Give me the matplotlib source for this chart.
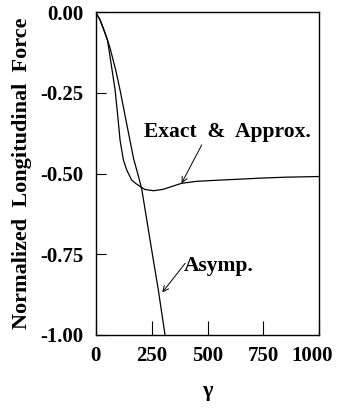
import matplotlib
matplotlib.use("Agg")
import matplotlib.pyplot as plt
from matplotlib.transforms import ScaledTranslation

# Exact & Approx. curve
exact_gamma = [0, 20, 53, 87, 100, 109, 124, 139, 161, 180, 191, 203, 220, 258, 300,
               340, 384, 450, 556, 650, 735, 850, 1000]
exact_force = [0, -0.024, -0.086, -0.241, -0.33, -0.396, -0.458, -0.489, -0.520, -0.531,
               -0.536, -0.542, -0.549, -0.553, -0.549, -0.540, -0.530, -0.524, -0.520,
               -0.517, -0.514, -0.511, -0.509]

# Asymptotic curve
asymp_gamma = [0, 20, 40, 64, 90, 109, 130, 153, 170, 190, 206, 230, 250, 280, 310]
asymp_force = [0, -0.024, -0.06, -0.11, -0.18, -0.241, -0.315, -0.396, -0.455, -0.505,
               -0.548, -0.65, -0.735, -0.86, -1.0]

x_ticks = [0, 250, 500, 750, 1000]
y_ticks = [0.0, -0.25, -0.5, -0.75, -1.0]
y_ticklabels = ["0.00", "-0.25", "-0.50", "-0.75", "-1.00"]

plt.rcParams['font.family'] = ['Liberation Serif', 'DejaVu Serif']
plt.rcParams['font.weight'] = 'bold'

fig = plt.figure(figsize=(3.38, 4.09), dpi=100)
ax = fig.add_axes([0.283, 0.181, 0.662, 0.789])

ax.plot(exact_gamma, exact_force, color='black', lw=0.9)
ax.plot(asymp_gamma, asymp_force, color='black', lw=0.9)

ax.set_xlim(0, 1000)
ax.set_ylim(-1.0, 0.0)
ax.set_xticks(x_ticks)
ax.set_xticklabels([str(t) for t in x_ticks])
ax.set_yticks(y_ticks)
ax.set_yticklabels(y_ticklabels)
ax.tick_params(axis='both', direction='in', labelsize=15, width=0.8)
ax.tick_params(axis='y', length=7, pad=9)
ax.tick_params(axis='x', length=10, pad=8)
for lab in ax.get_xticklabels() + ax.get_yticklabels():
    lab.set_fontweight('bold')
last = ax.get_xticklabels()[-1]
last.set_transform(last.get_transform() + ScaledTranslation(-0.07, 0, fig.dpi_scale_trans))
for s in ax.spines.values():
    s.set_linewidth(1.0)

ax.set_xlabel('γ', fontsize=16, fontweight='bold', labelpad=11)
ax.set_ylabel('Normalized  Longitudinal  Force', fontsize=16, fontweight='bold', labelpad=6)

ax.text(590, -0.37, 'Exact  &  Approx.', fontsize=15.5, fontweight='bold',
        ha='center', va='center')
ax.annotate('', xy=(384, -0.530), xytext=(474, -0.411),
            arrowprops=dict(arrowstyle='->', color='black', lw=0.7,
                            shrinkA=0, shrinkB=0))

ax.text(551, -0.785, 'Asymp.', fontsize=15.5, fontweight='bold',
        ha='center', va='center')
ax.annotate('', xy=(298, -0.868), xytext=(400, -0.778),
            arrowprops=dict(arrowstyle='->', color='black', lw=0.7,
                            shrinkA=0, shrinkB=0))

fig.savefig('out.png', dpi=100)
